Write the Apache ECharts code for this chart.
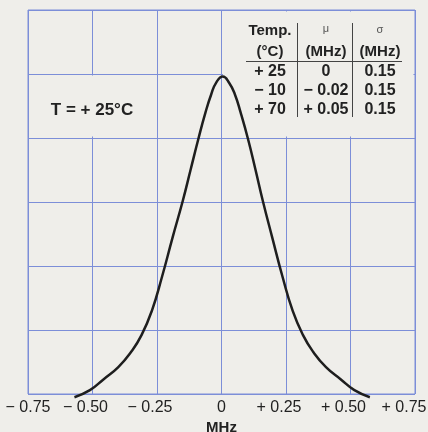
<!DOCTYPE html>
<html>
<head>
<meta charset="utf-8">
<script src="https://cdn.jsdelivr.net/npm/echarts@6/dist/echarts.min.js"></script>
<style>
  html, body { margin: 0; padding: 0; background: #efeeea; }
  #main { width: 428px; height: 432px; }
</style>
</head>
<body>
<div id="main"></div>
<script>
// 曲线数据（从图上读取，y 为网格单位）
var freqMHz = [-0.57, -0.51, -0.46, -0.40, -0.35, -0.31, -0.27, -0.23, -0.19, -0.15, -0.12, -0.09,
               -0.062, -0.04, -0.02, 0.005, 0.03, 0.052, 0.074, 0.103, 0.132, 0.16, 0.197, 0.236,
               0.276, 0.316, 0.355, 0.405, 0.465, 0.515, 0.575];
var density = [-0.05, 0.06, 0.22, 0.42, 0.66, 0.92, 1.30, 1.84, 2.44, 3.02, 3.50, 3.98,
               4.40, 4.68, 4.87, 4.96, 4.86, 4.68, 4.40, 3.98, 3.50, 3.02, 2.44, 1.84,
               1.30, 0.92, 0.66, 0.42, 0.22, 0.06, -0.05];
// x 轴刻度标签
var tickLabels = ['− 0.75', '− 0.50', '− 0.25', '0', '+ 0.25', '+ 0.50', '+ 0.75'];
// 表格内容
var tableHead1 = ['Temp.', 'μ', 'σ'];
var tableHead2 = ['(°C)', '(MHz)', '(MHz)'];
var tempCol = ['+ 25', '− 10', '+ 70'];
var muCol = ['0', '− 0.02', '+ 0.05'];
var sigmaCol = ['0.15', '0.15', '0.15'];
var noteText = 'T = + 25°C';

var bg = '#efeeea';
var gridColor = '#7c8ed8';
var font = '"Liberation Sans", Arial, sans-serif';

var myChart = echarts.init(document.getElementById('main'));

var curveData = [];
for (var i = 0; i < freqMHz.length; i++) {
    curveData.push([freqMHz[i], density[i]]);
}

//表格文字
var colX = [270, 326, 380];
var rowY = [72, 91, 110];
var graphics = [];
function addText(x, y, text, size, weight, color) {
    graphics.push({
        type: 'text', x: x, y: y, z: 10,
        style: {
            text: text, x: 0, y: 0, align: 'center', verticalAlign: 'middle',
            font: weight + ' ' + size + 'px ' + font, fill: color
        }
    });
}
addText(colX[0], 31, tableHead1[0], 15, 'bold', '#222');
addText(colX[1], 29, tableHead1[1], 11, 'normal', '#555');
addText(colX[2], 30, tableHead1[2], 11, 'normal', '#555');
for (var c = 0; c < 3; c++) {
    addText(colX[c], 52, tableHead2[c], 15, 'bold', '#222');
}
for (var r = 0; r < 3; r++) {
    addText(colX[0], rowY[r], tempCol[r], 16, 'bold', '#222');
    addText(colX[1], rowY[r], muCol[r], 16, 'bold', '#222');
    addText(colX[2], rowY[r], sigmaCol[r], 16, 'bold', '#222');
}
addText(92, 110, noteText, 17, 'bold', '#222');
// 表格线
graphics.push({ type: 'line', z: 10, shape: { x1: 246, y1: 61.5, x2: 402, y2: 61.5 }, style: { stroke: '#444', lineWidth: 1 } });
graphics.push({ type: 'line', z: 10, shape: { x1: 297.5, y1: 23, x2: 297.5, y2: 117 }, style: { stroke: '#444', lineWidth: 1 } });
graphics.push({ type: 'line', z: 10, shape: { x1: 352.5, y1: 23, x2: 352.5, y2: 117 }, style: { stroke: '#444', lineWidth: 1 } });

var option = {
    backgroundColor: bg,
    animation: false,
    grid: {
        left: 28, top: 10, width: 387, height: 384,
        outerBoundsMode: 'none',
        containLabel: false,
        show: true, borderColor: gridColor, borderWidth: 1, backgroundColor: 'transparent'
    },
    xAxis: {
        type: 'value',
        min: -0.75, max: 0.75, interval: 0.25,
        name: 'MHz', nameLocation: 'middle', nameGap: 26,
        nameMoveOverlap: false,
        nameTextStyle: { fontFamily: font, fontWeight: 'bold', fontSize: 15, color: '#222', verticalAlign: 'top' },
        axisLine: { show: false },
        axisTick: { show: false },
        splitLine: { show: true, lineStyle: { color: gridColor, width: 1, opacity: 1 } },
        axisLabel: {
            margin: 6,
            showMinLabel: true, showMaxLabel: true,
            fontFamily: font, fontSize: 16, color: '#222',
            formatter: function (val) {
                var idx = Math.round((val + 0.75) / 0.25);
                var t = tickLabels[idx];
                if (idx === 0) return '{n|' + t + '}';
                if (idx === 6) return '{e|' + t + '}';
                if (idx === 3) return '{n|' + t + '}';
                return '{s|' + t + '}';
            },
            rich: {
                n: { fontFamily: font, fontSize: 16, color: '#222' },
                s: { fontFamily: font, fontSize: 16, color: '#222', padding: [0, 14, 0, 0] },
                e: { fontFamily: font, fontSize: 16, color: '#222', padding: [0, 22, 0, 0] }
            }
        }
    },
    yAxis: {
        type: 'value',
        min: 0, max: 6, interval: 1,
        axisLine: { show: false },
        axisTick: { show: false },
        axisLabel: { show: false },
        splitLine: { show: true, lineStyle: { color: gridColor, width: 1, opacity: 1 } }
    },
    graphic: graphics,
    series: [
        {
            //遮住表格和标注区域的网格线
            type: 'line',
            data: curveData,
            z: 1,
            silent: true,
            showSymbol: false,
            lineStyle: { opacity: 0 },
            markArea: {
                silent: true,
                itemStyle: { color: bg, borderWidth: 0, opacity: 1 },
                data: [
                    [{ coord: [0.006, 4.025] }, { coord: [0.744, 5.975] }],
                    [{ coord: [-0.744, 4.025] }, { coord: [-0.256, 4.975] }]
                ]
            }
        },
        {
            type: 'line',
            z: 3,
            data: curveData,
            smooth: 0.5,
            clip: false,
            showSymbol: false,
            lineStyle: { color: '#1e1e1e', width: 2.5 }
        }
    ]
};
myChart.setOption(option);
</script>
</body>
</html>
